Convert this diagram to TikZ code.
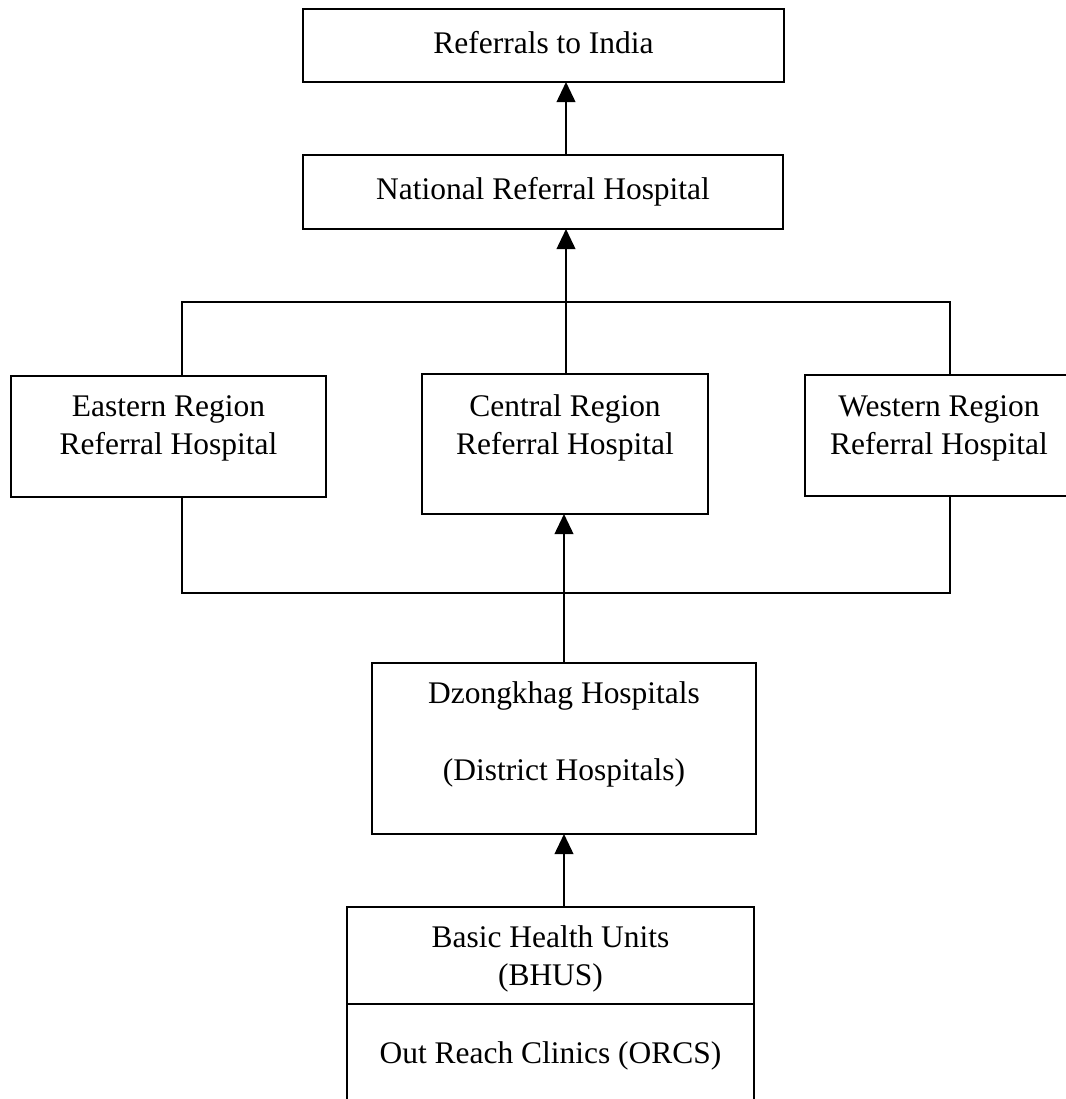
\documentclass[tikz,border=0pt]{standalone}
\usepackage{fontspec}
\setmainfont{Liberation Serif}
\usetikzlibrary{arrows.meta}
\begin{document}
\begin{tikzpicture}[x=0.75pt,y=-0.75pt,
  boxnode/.style={draw=black,line width=1.3pt,inner sep=0pt,outer sep=0pt,rectangle},
  txt/.style={anchor=base,inner sep=0pt,font=\fontsize{23.6}{28.5}\selectfont},
  conn/.style={draw=black,line width=1.3pt},
  arr/.style={conn,-{Triangle[length=15pt,width=14pt]}}]
\useasboundingbox[fill=white] (0,0) rectangle (1066,1099);
% boxes
\node[boxnode,minimum width=360.75pt,minimum height=54.75pt] (ref) at (543.5,45.5) {};
\node[boxnode,minimum width=360pt,minimum height=55.5pt] (nrh) at (543,192) {};
\node[boxnode,minimum width=236.25pt,minimum height=90.75pt] (east) at (168.5,436.5) {};
\node[boxnode,minimum width=214.5pt,minimum height=105pt] (central) at (565,444) {};
\node[boxnode,minimum width=201pt,minimum height=90.75pt] (west) at (939,435.5) {};
\node[boxnode,minimum width=288pt,minimum height=128.25pt] (dz) at (564,748.5) {};
\node[boxnode,minimum width=305.25pt,minimum height=72.75pt] (bhus) at (550.5,955.5) {};
\node[boxnode,minimum width=305.25pt,minimum height=83.25pt] (orcs) at (550.5,1059.5) {};
% texts
\node[txt] (tref) at (543.5,54) {Referrals to India};
\node[txt] (tnrh) at (543,199) {National Referral Hospital};
\node[txt] (te1) at (168.5,416) {Eastern Region};
\node[txt] (te2) at (168.5,454) {Referral Hospital};
\node[txt] (tc1) at (565,416) {Central Region};
\node[txt] (tc2) at (565,454) {Referral Hospital};
\node[txt] (tw1) at (939,416) {Western Region};
\node[txt] (tw2) at (939,454) {Referral Hospital};
\node[txt] (td1) at (564,703.5) {Dzongkhag Hospitals};
\node[txt] (td2) at (564,780.5) {(District Hospitals)};
\node[txt] (tb1) at (550.5,947.5) {Basic Health Units};
\node[txt] (tb2) at (550.5,985.5) {(BHUS)};
\node[txt] (to1) at (550.5,1063) {Out Reach Clinics (ORCS)};
% bracket corners
\coordinate (tl) at (182,302);
\coordinate (tr) at (950,302);
\coordinate (bl) at (182,593);
\coordinate (br) at (950,593);
\coordinate (col) at (566,0);
% connectors
\draw[arr] (nrh.north -| col) -- (ref.south -| col);
\draw[arr] (central.north -| col) -- (nrh.south -| col);
\draw[conn] (east.north -| tl) -- (tl) -- (tr) -- (west.north -| tr);
\draw[conn] (east.south -| bl) -- (bl) -- (br) -- (west.south -| br);
\draw[arr] (dz.north) -- (central.south -| dz.north);
\draw[arr] (bhus.north -| dz.south) -- (dz.south);
\end{tikzpicture}
\end{document}
